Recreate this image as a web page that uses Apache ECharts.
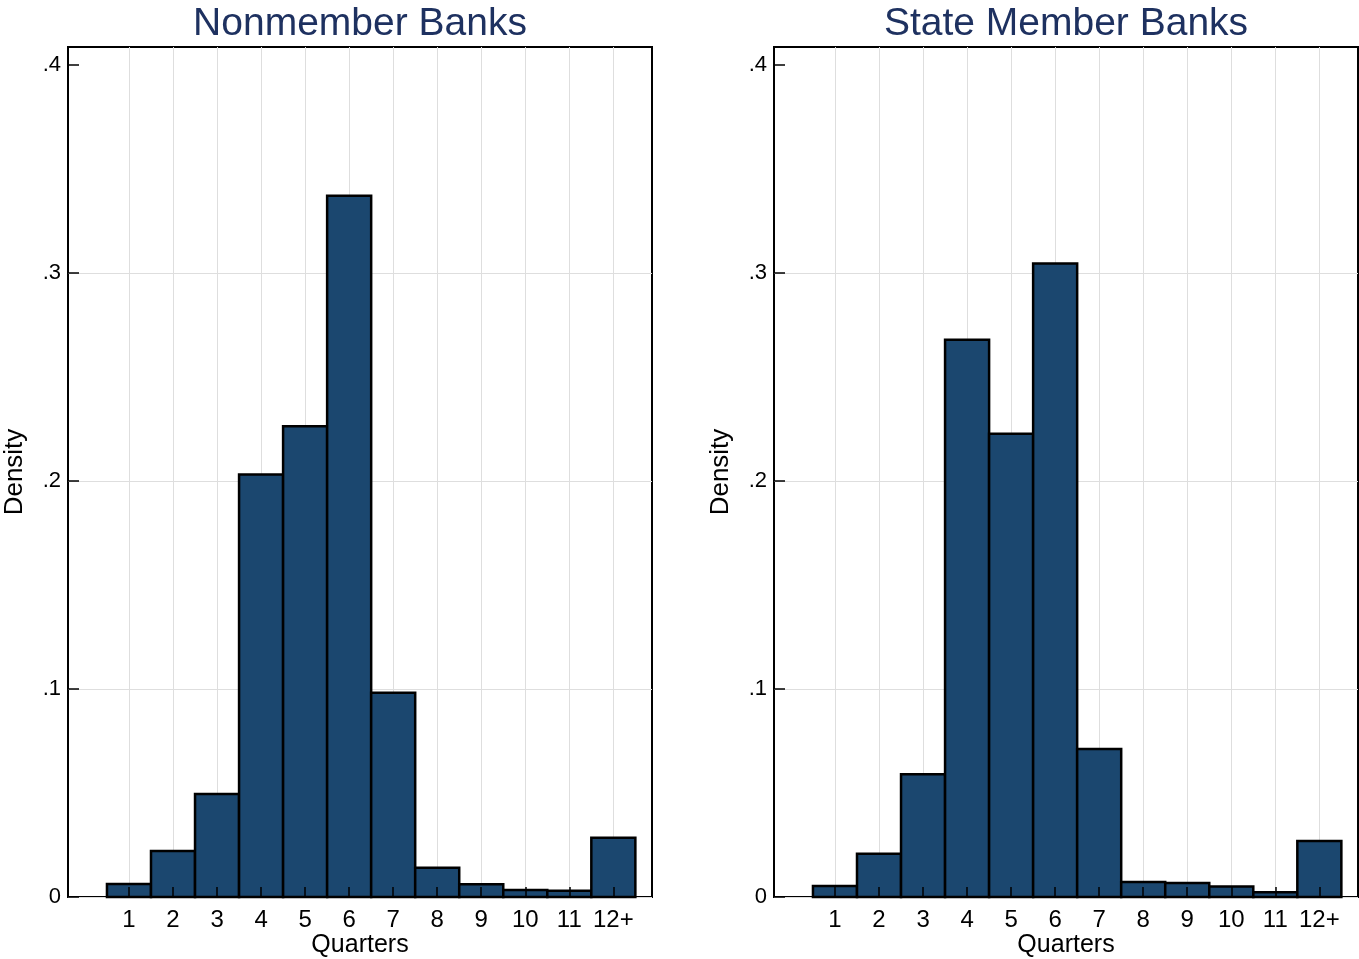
<!DOCTYPE html>
<html>
<head>
<meta charset="utf-8">
<script src="https://cdn.jsdelivr.net/npm/echarts@6/dist/echarts.min.js"></script>
<style>
  html, body { margin: 0; padding: 0; background: #fff; }
  #chart { width: 1359px; height: 959px; }
</style>
</head>
<body>
<div id="chart"></div>
<script>
// ---- data ----
const binCenters = [1, 2, 3, 4, 5, 6, 7, 8, 9, 10, 11, 12];
const xTickLabels = ['1', '2', '3', '4', '5', '6', '7', '8', '9', '10', '11', '12+'];
const nonmemberDensity = [0.0063, 0.0221, 0.0495, 0.2032, 0.2264, 0.3372, 0.0982, 0.0141, 0.0061, 0.0034, 0.0030, 0.0285];
const stateMemberDensity = [0.0053, 0.0208, 0.0590, 0.2679, 0.2227, 0.3046, 0.0712, 0.0072, 0.0067, 0.0050, 0.0023, 0.0269];
const yTickValues = [0, 0.1, 0.2, 0.3, 0.4];
const yTickLabels = ['0', '.1', '.2', '.3', '.4'];
const panelTitles = ['Nonmember Banks', 'State Member Banks'];
const xAxisTitle = 'Quarters';
const yAxisTitle = 'Density';

// ---- styling ----
const FONT = '"Liberation Sans", Arial, Helvetica, sans-serif';
const BAR = '#1b476f';
const GRIDC = '#dedede';
const XMIN = -0.385, XMAX = 12.878, YMIN = 0, YMAX = 0.4087;
const panels = [
  { left: 68, top: 47, width: 584, height: 850, data: nonmemberDensity },
  { left: 774, top: 47, width: 584, height: 850, data: stateMemberDensity }
];

function xFmt(v) {
  const i = binCenters.indexOf(Math.round(v));
  return i >= 0 ? xTickLabels[i] : '';
}
function yFmt(v) {
  for (let i = 0; i < yTickValues.length; i++) {
    if (Math.abs(yTickValues[i] - v) < 1e-9) return yTickLabels[i];
  }
  return '';
}

const grid = [], xAxis = [], yAxis = [], series = [], graphic = [];
panels.forEach((p, i) => {
  grid.push({
    left: p.left, top: p.top, width: p.width, height: p.height,
    outerBoundsMode: 'none', containLabel: false,
    show: true, borderColor: '#000', borderWidth: 2, backgroundColor: '#fff'
  });
  // axis A: vertical grid lines (under bars)
  xAxis.push({
    type: 'value', gridIndex: i, position: 'bottom', min: XMIN, max: XMAX, z: 0,
    axisLine: { show: false, onZero: false },
    axisTick: { show: false, customValues: binCenters },
    axisLabel: { show: false, customValues: binCenters },
    splitLine: { show: true, lineStyle: { color: GRIDC, width: 1 } }
  });
  // axis B: ticks & labels (above bars)
  xAxis.push({
    type: 'value', gridIndex: i, position: 'bottom', min: XMIN, max: XMAX, z: 5,
    axisLine: { show: false, onZero: false },
    axisTick: { show: true, inside: true, length: 10, customValues: binCenters,
      lineStyle: { color: '#000', width: 1.5 } },
    axisLabel: { customValues: binCenters, formatter: xFmt, margin: 11,
      fontSize: 24, color: '#000', fontFamily: FONT },
    splitLine: { show: false },
    name: xAxisTitle, nameLocation: 'middle', nameGap: 36, nameMoveOverlap: false,
    nameTextStyle: { fontSize: 25, color: '#000', fontFamily: FONT }
  });
  yAxis.push({
    type: 'value', gridIndex: i, position: 'left', min: YMIN, max: YMAX,
    axisLine: { show: false, onZero: false },
    axisTick: { show: true, inside: true, length: 11, customValues: yTickValues,
      lineStyle: { color: '#000', width: 1.5 } },
    axisLabel: { customValues: yTickValues, formatter: yFmt, margin: 7,
      fontSize: 22, color: '#000', fontFamily: FONT },
    splitLine: { show: true, lineStyle: { color: [GRIDC, GRIDC, GRIDC, GRIDC, 'rgba(0,0,0,0)'], width: 1 } },
    name: yAxisTitle, nameLocation: 'middle', nameGap: 40, nameMoveOverlap: false,
    nameTextStyle: { fontSize: 26, color: '#000', fontFamily: FONT }
  });
  series.push({
    type: 'custom',
    coordinateSystem: 'cartesian2d',
    xAxisIndex: i * 2, yAxisIndex: i, z: 2,
    encode: { x: 0, y: 1 },
    data: binCenters.map((c, k) => [c, p.data[k]]),
    renderItem: function (params, api) {
      const x = api.value(0), y = api.value(1);
      const a = api.coord([x - 0.5, y]);
      const b = api.coord([x + 0.5, 0]);
      return {
        type: 'rect',
        shape: { x: a[0], y: a[1], width: b[0] - a[0], height: b[1] - a[1] },
        style: { fill: BAR, stroke: '#000', lineWidth: 2.5 }
      };
    }
  });
  graphic.push({
    type: 'text',
    x: p.left + p.width / 2, y: 24,
    style: {
      text: panelTitles[i], align: 'center', verticalAlign: 'middle',
      fontSize: 39, fontFamily: FONT, fill: '#1e3160'
    }
  });
});

const chart = echarts.init(document.getElementById('chart'), null, { renderer: 'canvas' });
chart.setOption({
  animation: false,
  backgroundColor: '#fff',
  grid, xAxis, yAxis, series, graphic
});
</script>
</body>
</html>
